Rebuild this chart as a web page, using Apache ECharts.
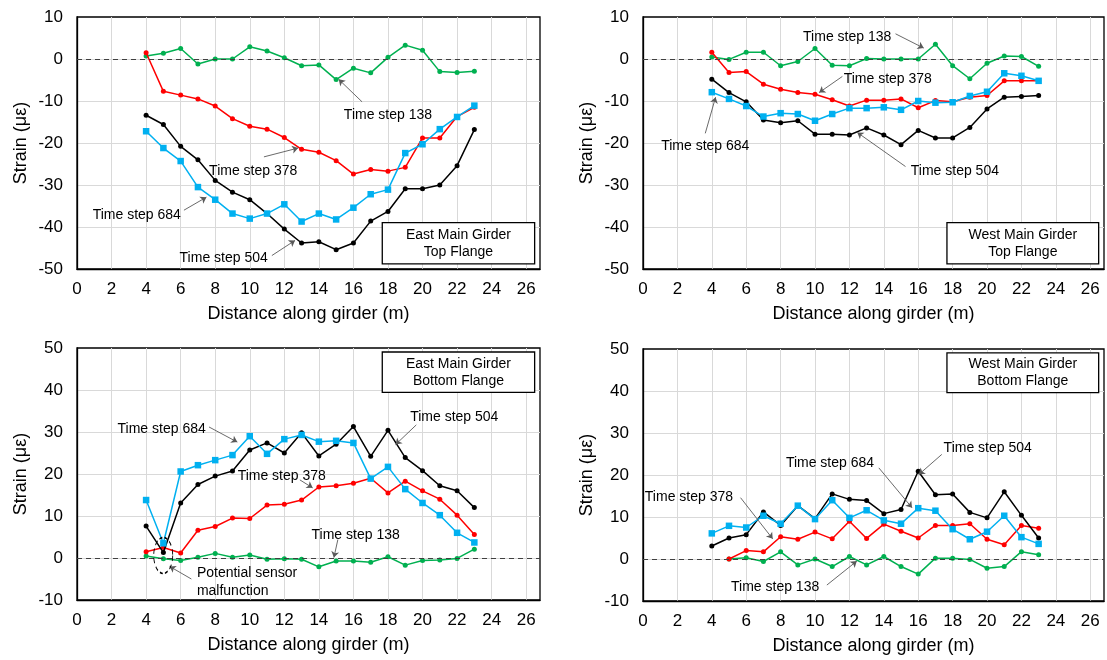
<!DOCTYPE html>
<html><head><meta charset="utf-8">
<script src="https://cdn.jsdelivr.net/npm/echarts@6/dist/echarts.min.js"></script>
<style>html,body{margin:0;padding:0;background:#fff}#c{width:1107px;height:660px}</style>
</head><body><div id="c"></div>
<script>
// ---------------- data ----------------
const distance = [4,5,6,7,8,9,10,11,12,13,14,15,16,17,18,19,20,21,22,23];

// East main girder, top flange
const eastTop138 = [0.7,1.35,2.5,-1.2,0,0,2.9,1.9,0.3,-1.6,-1.4,-4.9,-2.2,-3.3,0.4,3.3,2.1,-3.0,-3.2,-2.9];
const eastTop378 = [1.5,-7.7,-8.6,-9.5,-11.2,-14.2,-16.0,-16.7,-18.7,-21.5,-22.2,-24.2,-27.4,-26.3,-26.7,-25.8,-18.8,-18.8,-13.7,-11.5];
const eastTop504 = [-13.4,-15.6,-20.8,-24.0,-28.9,-31.7,-33.5,-36.8,-40.5,-43.8,-43.5,-45.4,-43.8,-38.6,-36.3,-30.9,-30.9,-30.0,-25.4,-16.8];
const eastTop684 = [-17.2,-21.2,-24.3,-30.5,-33.5,-36.8,-38.0,-36.8,-34.6,-38.7,-36.8,-38.2,-35.4,-32.2,-31.1,-22.4,-20.3,-16.7,-13.8,-11.1];

// West main girder, top flange
const westTop138 = [0.5,-0.1,1.6,1.6,-1.6,-0.6,2.5,-1.5,-1.6,0.1,0,0,0,3.5,-1.6,-4.7,-1.0,0.7,0.6,-1.75];
const westTop378 = [1.6,-3.2,-3.0,-6.0,-7.2,-8.0,-8.4,-9.7,-11.2,-9.8,-9.8,-9.5,-11.6,-9.9,-10.2,-9.1,-8.7,-5.2,-5.2,-5.2];
const westTop504 = [-4.8,-8.0,-10.2,-14.5,-15.2,-14.7,-17.9,-17.9,-18.1,-16.4,-18.1,-20.4,-17.0,-18.8,-18.8,-16.3,-11.9,-9.1,-8.9,-8.7];
const westTop684 = [-7.9,-9.5,-11.2,-13.7,-12.9,-13.1,-14.7,-13.1,-11.7,-11.7,-11.5,-12.1,-10.0,-10.4,-10.3,-8.8,-7.8,-3.4,-4.0,-5.2];

// East main girder, bottom flange
const eastBot138 = [0.5,-0.2,-0.6,0.2,1.1,0.2,0.7,-0.3,-0.2,-0.3,-2.1,-0.7,-0.7,-1.0,0.3,-1.7,-0.6,-0.5,-0.1,2.1];
const eastBot378 = [1.5,2.5,1.2,6.6,7.5,9.5,9.4,12.6,12.8,13.8,16.9,17.2,17.8,19.0,15.5,18.3,16.0,14.0,10.2,5.6];
const eastBot504 = [7.6,1.3,13.1,17.5,19.5,20.7,25.7,27.4,25.0,29.8,24.3,27.1,31.3,24.2,30.4,23.9,20.8,17.2,16.0,12.0];
const eastBot684 = [13.8,3.5,20.6,22.1,23.3,24.5,29.0,24.8,28.3,29.3,27.7,27.9,27.4,18.9,21.7,16.4,13.1,10.2,6.0,3.7];

// West main girder, bottom flange
const westBot138 = [null,0,0.3,-0.6,1.7,-1.4,0,-1.8,0.6,-1.4,0.6,-1.8,-3.6,0.2,0.2,-0.1,-2.2,-1.8,1.75,1.0];
const westBot378 = [null,0,2.0,1.7,5.3,4.7,6.4,4.8,9.0,4.9,8.3,6.6,5.0,8.0,8.0,8.4,4.7,3.4,8.0,7.3];
const westBot504 = [3.1,5.0,5.8,11.2,8.0,12.7,9.6,15.5,14.2,13.9,10.8,11.8,20.9,15.3,15.5,11.1,9.8,16.0,10.4,5.0];
const westBot684 = [6.1,7.9,7.5,10.3,8.4,12.7,9.5,14.0,9.8,11.6,9.2,8.4,12.1,11.5,7.1,4.7,6.5,10.3,5.2,3.6];

const seriesNames = ['Time step 138','Time step 378','Time step 504','Time step 684'];
const panelTitles = ['East Main Girder\nTop Flange','West Main Girder\nTop Flange','East Main Girder\nBottom Flange','West Main Girder\nBottom Flange'];
const panelData = [
  [eastTop138, eastTop378, eastTop504, eastTop684],
  [westTop138, westTop378, westTop504, westTop684],
  [eastBot138, eastBot378, eastBot504, eastBot684],
  [westBot138, westBot378, westBot504, westBot684]
];
const yRanges = [[-50,10],[-50,10],[-10,50],[-10,50]];

// annotations (data coordinates): text label centre, arrow start, arrow end
const notes = [
  [ ['Time step 138',18.0,-13.4,16.5,-10.2,15.15,-4.85],
    ['Time step 378',10.2,-26.7,10.82,-23.3,12.8,-21.2],
    ['Time step 684',3.46,-37.2,6.19,-36.0,7.49,-32.9],
    ['Time step 504',8.49,-47.3,11.28,-46.8,12.62,-43.2] ],
  [ ['Time step 138',11.87,5.25,14.68,6.0,16.32,2.6],
    ['Time step 378',14.23,-4.7,11.59,-4.15,10.24,-8.0],
    ['Time step 684',3.62,-20.7,3.62,-17.7,4.22,-9.1],
    ['Time step 504',18.13,-26.6,15.26,-25.6,12.46,-17.5] ],
  [ ['Time step 684',4.9,30.7,7.64,31.2,9.28,27.6],
    ['Time step 378',11.85,19.4,12.9,18.6,13.64,16.7],
    ['Time step 504',21.84,33.6,19.64,31.7,18.44,27.0],
    ['Time step 138',16.13,5.5,15.1,4.4,14.87,0.1] ],
  [ ['Time step 684',10.87,22.9,13.71,21.7,15.64,12.2],
    ['Time step 504',20.04,26.5,17.37,24.9,16.03,20.1],
    ['Time step 378',2.67,14.8,5.67,14.6,7.54,4.8],
    ['Time step 138',7.68,-6.6,10.69,-6.2,12.43,-0.5] ]
];
const boxCorners = [[17.67,-38.97,26.49,-48.76],[17.67,-38.97,26.49,-48.76],[17.67,49.05,26.49,39.43],[17.67,49.1,26.49,39.6]];
const sensorNote = { text:'Potential sensor\nmalfunction', x:6.91, y:-5.86, arrow:[6.62,-5.0,5.36,-2.0], ellipse:[4.99,0.6] };

// ---------------- styling ----------------
const FONT = 'Liberation Sans, Arial, sans-serif';
const colors = ['#00B050','#FF0000','#000000','#00B0F0'];
const symbols = ['circle','circle','circle','rect'];
const symSizes = [5,5,5,6.5];
const gridsPos = [
  {left:77, top:17, width:463, height:252},
  {left:643, top:17, width:463, height:252},
  {left:77, top:348, width:463, height:252},
  {left:643, top:349, width:463, height:252}
];

const grid = [], xAxis = [], yAxis = [], series = [];
gridsPos.forEach((g, i) => {
  grid.push(Object.assign({show:true, borderColor:'#000', borderWidth:1.3, backgroundColor:'#fff'}, g));
  xAxis.push({
    type:'value', gridIndex:i, min:0, max:26.8, interval:2,
    name:'Distance along girder (m)', nameLocation:'middle', nameGap:36,
    nameTextStyle:{fontSize:18, color:'#000', fontFamily:FONT},
    axisLine:{show:true, onZero:false, lineStyle:{color:'#000', width:1.3}},
    axisTick:{show:false},
    axisLabel:{fontSize:17, color:'#000', fontFamily:FONT, margin:12,
      formatter: v => (Math.abs(v % 2) < 1e-9 ? String(v) : '')},
    splitLine:{show:true, showMinLine:false, showMaxLine:false, lineStyle:{color:'#D9D9D9', width:1}}
  });
  yAxis.push({
    type:'value', gridIndex:i, min:yRanges[i][0], max:yRanges[i][1], interval:10,
    name:'Strain (με)', nameLocation:'middle', nameGap:47,
    nameTextStyle:{fontSize:18, color:'#000', fontFamily:FONT},
    axisLine:{show:true, onZero:false, lineStyle:{color:'#000', width:1.3}},
    axisTick:{show:false},
    axisLabel:{fontSize:17, color:'#000', fontFamily:FONT, margin:14},
    splitLine:{show:true, showMinLine:false, showMaxLine:false, lineStyle:{color:'#D9D9D9', width:1}}
  });

  // zero reference line
  series.push({
    type:'line', xAxisIndex:i, yAxisIndex:i, data:[], z:1, silent:true,
    markLine:{silent:true, symbol:['none','none'], label:{show:false},
      lineStyle:{color:'#404040', type:[5,4], width:1.2},
      emphasis:{disabled:true},
      data:[{yAxis:0}]}
  });

  panelData[i].forEach((arr, s) => {
    series.push({
      type:'line', name:seriesNames[s], xAxisIndex:i, yAxisIndex:i, z:2 + s*0.01,
      data: distance.map((d,k) => [d, arr[k]]).filter(p => p[1] !== null),
      symbol:symbols[s], symbolSize:symSizes[s], showSymbol:true,
      lineStyle:{color:colors[s], width:1.5},
      itemStyle:{color:colors[s]},
      emphasis:{disabled:true}
    });
  });

  // annotations
  const mlData = notes[i].map(n => [
    {coord:[n[3], n[4]], symbol:'none'},
    {coord:[n[5], n[6]], symbol:'arrow', symbolSize:6}
  ]);
  const mpData = notes[i].map(n => ({
    coord:[n[1], n[2]], symbol:'rect', symbolSize:1,
    itemStyle:{color:'rgba(0,0,0,0)'},
    label:{show:true, position:'inside', formatter:n[0], color:'#000', fontSize:14, fontFamily:FONT}
  }));
  if (i === 2) {
    const a = sensorNote.arrow;
    mlData.push([{coord:[a[0],a[1]], symbol:'none'},{coord:[a[2],a[3]], symbol:'arrow', symbolSize:6}]);
    mpData.push({coord:[sensorNote.x, sensorNote.y], symbol:'rect', symbolSize:1,
      itemStyle:{color:'rgba(0,0,0,0)'},
      label:{show:true, position:'right', distance:0, align:'left', formatter:sensorNote.text,
        color:'#000', fontSize:14, lineHeight:18, fontFamily:FONT}});
    mpData.push({coord:sensorNote.ellipse, symbol:'circle', symbolSize:[19,36],
      itemStyle:{color:'rgba(0,0,0,0)', borderColor:'#000', borderWidth:1.2, borderType:[4,3]},
      label:{show:false}});
  }
  const b = boxCorners[i];
  series.push({
    type:'line', xAxisIndex:i, yAxisIndex:i, data:[], z:5, silent:true,
    markLine:{silent:true, animation:false, label:{show:false},
      lineStyle:{color:'#595959', type:'solid', width:0.9},
      emphasis:{disabled:true}, data: mlData},
    markPoint:{silent:true, animation:false, data: mpData},
    markArea:{silent:true, animation:false,
      itemStyle:{color:'#fff', borderColor:'#000', borderWidth:1.3, opacity:1},
      label:{show:true, position:'inside', color:'#000', fontSize:14, lineHeight:17, fontFamily:FONT},
      emphasis:{disabled:true},
      data:[[{coord:[b[0],b[1]], name:panelTitles[i]},{coord:[b[2],b[3]]}]]}
  });
});

const chart = echarts.init(document.getElementById('c'), null, {renderer:'canvas'});
chart.setOption({
  animation:false,
  backgroundColor:'#fff',
  textStyle:{fontFamily:FONT},
  grid, xAxis, yAxis, series
});
</script>
</body></html>
